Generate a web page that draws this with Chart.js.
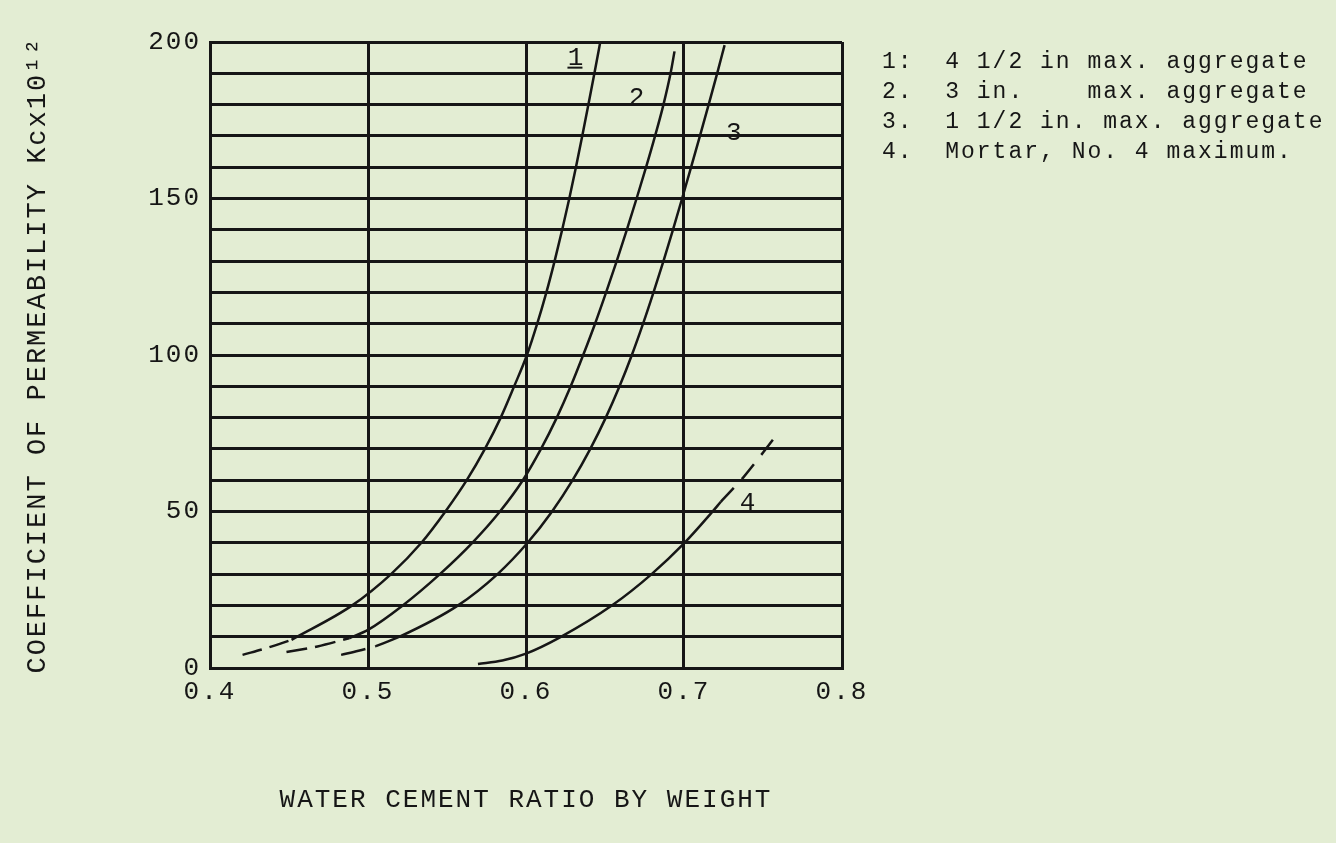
<!DOCTYPE html>
<html>
<head>
<meta charset="utf-8">
<script src="https://cdn.jsdelivr.net/npm/chart.js@4/dist/chart.umd.min.js"></script>
<style>
  html, body { margin: 0; padding: 0; background: #e3edd3; }
  #wrap { width: 1336px; height: 843px; position: relative; }
  canvas { display: block; }
</style>
</head>
<body>
<div id="wrap"><canvas id="c" width="1336" height="843"></canvas></div>
<script>
// ---- axis ticks ----
const xTickValues = [0.4, 0.5, 0.6, 0.7, 0.8];
const xTickLabels = ['0.4', '0.5', '0.6', '0.7', '0.8'];
const yGridValues = [0, 10, 20, 30, 40, 50, 60, 70, 80, 90, 100, 110, 120, 130, 140, 150, 160, 170, 180, 190, 200];
const yLabelValues = [0, 50, 100, 150, 200];

// ---- curve 1 : 4 1/2 in max. aggregate ----
const curve1X = [0.4516, 0.490, 0.5146, 0.5338, 0.549, 0.5625, 0.574, 0.584, 0.5925, 0.6006, 0.6071, 0.6129, 0.6181, 0.6229, 0.6274, 0.6316, 0.6356, 0.6395, 0.6433, 0.647];
const curve1Y = [9, 20, 30, 40, 50, 60, 70, 80, 90, 100, 110, 120, 130, 140, 150, 160, 170, 180, 190, 200];
const curve1DashX = [0.4206, 0.436, 0.4516];
const curve1DashY = [4.2, 6.4, 9];

// ---- curve 2 : 3 in. max. aggregate ----
const curve2X = [0.488, 0.500, 0.522, 0.5455, 0.566, 0.5835, 0.598, 0.6095, 0.6195, 0.6283, 0.6362, 0.6437, 0.6507, 0.6574, 0.6638, 0.670, 0.676, 0.6817, 0.687, 0.6915, 0.694];
const curve2Y = [9.5, 12.2, 20, 30, 40, 50, 60, 70, 80, 90, 100, 110, 120, 130, 140, 150, 160, 170, 180, 190, 197];
const curve2DashX = [0.4484, 0.468, 0.488];
const curve2DashY = [5.1, 6.9, 9.5];

// ---- curve 3 : 1 1/2 in. max. aggregate ----
const curve3X = [0.505, 0.520, 0.557, 0.582, 0.601, 0.6165, 0.6295, 0.6407, 0.6505, 0.6592, 0.667, 0.6741, 0.6807, 0.687, 0.693, 0.6988, 0.7045, 0.7101, 0.7156, 0.721, 0.7257];
const curve3Y = [7, 10, 20, 30, 40, 50, 60, 70, 80, 90, 100, 110, 120, 130, 140, 150, 160, 170, 180, 190, 199];
const curve3DashX = [0.483, 0.494, 0.505];
const curve3DashY = [4.2, 5.5, 7];

// ---- curve 4 : Mortar, No. 4 maximum ----
const curve4X = [0.5696, 0.585, 0.600, 0.6215, 0.655, 0.6795, 0.700, 0.7176, 0.7233];
const curve4Y = [1.3, 2.4, 4.6, 9.8, 20.2, 30, 39.8, 49.7, 53.1];
const curve4DashX = [0.7233, 0.7377, 0.7503, 0.7585];
const curve4DashY = [53.1, 61, 69, 74.4];

// ---- legend texts and curve tags ----
const legendLines = [
  '1:  4 1/2 in max. aggregate',
  '2.  3 in.    max. aggregate',
  '3.  1 1/2 in. max. aggregate',
  '4.  Mortar, No. 4 maximum.'
];
const curveTags = ['1', '2', '3', '4'];
const curveTagX = [0.6313, 0.670, 0.7315, 0.7403];
const curveTagY = [195, 182, 171, 52.7];

const xTitle = 'WATER CEMENT RATIO BY WEIGHT';
const yTitle = 'COEFFICIENT OF PERMEABILITY Kcx10\u00B9\u00B2';

// ---- build ----
const ink = '#161616';
const mono = '"Liberation Mono", "DejaVu Sans Mono", monospace';
const pts = (xs, ys) => xs.map((x, i) => ({ x: x, y: ys[i] }));

const datasets = [
  { label: 'c1', data: pts(curve1X, curve1Y) },
  { label: 'c1d', data: pts(curve1DashX, curve1DashY), borderDash: [20, 8] },
  { label: 'c2', data: pts(curve2X, curve2Y) },
  { label: 'c2d', data: pts(curve2DashX, curve2DashY), borderDash: [21, 8] },
  { label: 'c3', data: pts(curve3X, curve3Y) },
  { label: 'c3d', data: pts(curve3DashX, curve3DashY), borderDash: [25, 10] },
  { label: 'c4', data: pts(curve4X, curve4Y) },
  { label: 'c4d', data: pts(curve4DashX, curve4DashY), borderDash: [19, 12] }
].map(d => Object.assign({
  borderColor: ink, borderWidth: 2.5, pointRadius: 0, fill: false,
  cubicInterpolationMode: 'monotone', showLine: true
}, d));

const spacingPlugin = {
  id: 'spacing',
  beforeDraw(chart) { chart.ctx.letterSpacing = '2px'; }
};

const notesPlugin = {
  id: 'notes',
  afterDraw(chart) {
    const ctx = chart.ctx;
    const xs = chart.scales.x, ys = chart.scales.y;
    const area = chart.chartArea;
    ctx.save();
    ctx.fillStyle = ink;
    ctx.strokeStyle = ink;
    // curve tags
    ctx.letterSpacing = '0px';
    ctx.font = '26px ' + mono;
    ctx.textAlign = 'center';
    ctx.textBaseline = 'middle';
    curveTags.forEach((t, i) => {
      const px = xs.getPixelForValue(curveTagX[i]);
      const py = ys.getPixelForValue(curveTagY[i]);
      ctx.fillText(t, px, py);
      if (i === 0) {
        ctx.lineWidth = 2;
        ctx.beginPath();
        ctx.moveTo(px - 8, py + 10);
        ctx.lineTo(px + 7, py + 10);
        ctx.stroke();
      }
    });
    // legend
    ctx.letterSpacing = '2px';
    ctx.font = '23px ' + mono;
    ctx.textAlign = 'left';
    legendLines.forEach((t, i) => {
      ctx.fillText(t, area.right + 40, area.top + 20 + i * 30);
    });
    ctx.restore();
  }
};

new Chart(document.getElementById('c'), {
  type: 'line',
  data: { datasets: datasets },
  options: {
    responsive: false,
    animation: false,
    layout: { padding: { top: 42, right: 494, bottom: 0, left: 0 } },
    plugins: { legend: { display: false }, tooltip: { enabled: false } },
    scales: {
      x: {
        type: 'linear', min: 0.4, max: 0.8,
        afterBuildTicks: s => { s.ticks = xTickValues.map(v => ({ value: v })); },
        afterFit: s => { s.height = 175; },
        ticks: {
          callback: v => { const i = xTickValues.indexOf(v); return i >= 0 ? xTickLabels[i] : ''; },
          font: { family: mono, size: 26 }, color: ink, padding: 9,
          maxRotation: 0, autoSkip: false
        },
        grid: { color: ink, lineWidth: 3, drawTicks: false },
        border: { color: ink, width: 3 },
        title: {
          display: true, text: xTitle, color: ink,
          font: { family: mono, size: 26 }, padding: { top: 0, bottom: 27 }
        }
      },
      y: {
        type: 'linear', min: 0, max: 200,
        afterBuildTicks: s => { s.ticks = yGridValues.map(v => ({ value: v })); },
        afterFit: s => { s.width = 210; },
        ticks: {
          callback: v => yLabelValues.includes(v) ? String(v) : '',
          font: { family: mono, size: 26 }, color: ink, padding: 9, autoSkip: false
        },
        grid: { color: ink, lineWidth: 3, drawTicks: false },
        border: { color: ink, width: 3 },
        title: {
          display: true, text: yTitle, color: ink,
          font: { family: mono, size: 27 }, padding: { top: 22, bottom: 0 }
        }
      }
    }
  },
  plugins: [spacingPlugin, notesPlugin]
});
</script>
</body>
</html>
